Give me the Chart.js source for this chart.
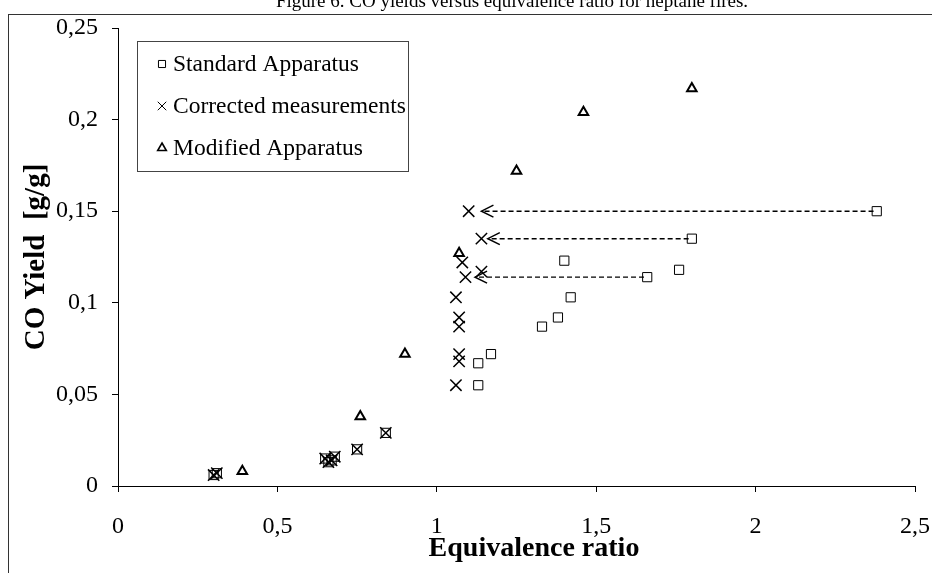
<!DOCTYPE html>
<html>
<head>
<meta charset="utf-8">
<script src="https://cdn.jsdelivr.net/npm/chart.js@4.4.1/dist/chart.umd.min.js"></script>
<style>
  html, body { margin: 0; padding: 0; background: #fff; }
  #wrap { width: 932px; height: 573px; position: relative; }
</style>
</head>
<body>
<div id="wrap"><canvas id="c" width="932" height="573"></canvas></div>
<script>
// CO yield vs equivalence ratio (heptane fires)

const TITLE = 'Figure 6. CO yields versus equivalence ratio for heptane fires.';
const X_TITLE = 'Equivalence ratio';
const Y_TITLE = 'CO Yield  [g/g]';

// Standard Apparatus (open squares)
const standardX = [2.38, 1.80, 1.40, 1.76, 1.66, 1.42, 1.38, 1.33, 1.17, 1.13, 1.13, 0.84, 0.75, 0.68, 0.67, 0.66, 0.65, 0.31, 0.30];
const standardY = [0.150, 0.135, 0.123, 0.118, 0.114, 0.103, 0.092, 0.087, 0.072, 0.067, 0.055, 0.029, 0.020, 0.016, 0.014, 0.013, 0.015, 0.007, 0.006];

// Corrected measurements (x)
const correctedX = [1.10, 1.14, 1.08, 1.14, 1.09, 1.06, 1.07, 1.07, 1.07, 1.07, 1.06, 0.84, 0.75, 0.68, 0.67, 0.66, 0.65, 0.31, 0.30];
const correctedY = [0.150, 0.135, 0.122, 0.117, 0.114, 0.103, 0.092, 0.087, 0.072, 0.068, 0.055, 0.029, 0.020, 0.016, 0.014, 0.013, 0.015, 0.007, 0.006];

// Modified Apparatus (open triangles)
const modifiedX = [1.80, 1.46, 1.25, 1.07, 0.90, 0.76, 0.39];
const modifiedY = [0.217, 0.204, 0.172, 0.127, 0.072, 0.038, 0.008];

// dashed correction arrows (from square to corrected value)
const arrowY     = [0.150, 0.135, 0.114];
const arrowFromX = [2.37, 1.79, 1.65];
const arrowToX   = [1.14, 1.16, 1.12];

// axis ticks
const xTicks = [0, 0.5, 1, 1.5, 2, 2.5];
const yTicks = [0, 0.05, 0.1, 0.15, 0.2, 0.25];

const SERIF = '"Liberation Serif", "Times New Roman", serif';
const pts = (xs, ys) => xs.map((x, i) => ({ x, y: ys[i] }));
const comma = (v) => String(Number(v.toFixed(2))).replace('.', ',');

// ---------- 枠・図タイトル(上端で切れている) ----------
const framePlugin = {
  id: 'frame',
  beforeDraw(chart) {
    const ctx = chart.ctx;
    ctx.save();
    ctx.fillStyle = '#fff';
    ctx.fillRect(0, 0, chart.width, chart.height);
    ctx.strokeStyle = '#333';
    ctx.lineWidth = 1;
    ctx.strokeRect(8.5, 14.5, 940, 600);
    ctx.fillStyle = '#000';
    ctx.font = '19px ' + SERIF;
    ctx.textAlign = 'center';
    ctx.textBaseline = 'alphabetic';
    ctx.fillText(TITLE, 512, 7);
    ctx.restore();
  },
  // x軸タイトルは原図では少し右寄り
  afterDraw(chart) {
    const ctx = chart.ctx;
    ctx.save();
    ctx.fillStyle = '#000';
    ctx.font = 'bold 28px ' + SERIF;
    ctx.textAlign = 'center';
    ctx.textBaseline = 'alphabetic';
    ctx.fillText(X_TITLE, 534, 556);
    ctx.restore();
  }
};

// ---------- 矢印の先(開いた山形) ----------
const arrowPlugin = {
  id: 'arrowHeads',
  afterDatasetsDraw(chart) {
    const xs = chart.scales.x, ys = chart.scales.y;
    const ctx = chart.ctx;
    ctx.save();
    ctx.strokeStyle = '#000';
    ctx.lineWidth = 1.5;
    arrowToX.forEach((x, i) => {
      const px = xs.getPixelForValue(x), py = ys.getPixelForValue(arrowY[i]);
      ctx.beginPath();
      ctx.moveTo(px + 12, py - 6); ctx.lineTo(px, py); ctx.lineTo(px + 12, py + 6);
      ctx.stroke();
    });
    ctx.restore();
  }
};

// ---------- 凡例(枠付き) ----------
const legendPlugin = {
  id: 'boxLegend',
  afterDraw(chart) {
    const ctx = chart.ctx;
    ctx.save();
    ctx.strokeStyle = '#444';
    ctx.lineWidth = 1;
    ctx.strokeRect(137.5, 41.5, 271, 130);
    ctx.font = '23.5px ' + SERIF;
    ctx.textBaseline = 'middle';
    const sizes = [5, 6, 5];
    [0, 1, 2].forEach((di, i) => {
      const ds = chart.data.datasets[di];
      const y = 64 + i * 42;
      ctx.fillStyle = 'rgba(0,0,0,0)';
      ctx.strokeStyle = '#000';
      ctx.lineWidth = di === 2 ? 1.6 : 1;
      Chart.helpers.drawPoint(ctx, { pointStyle: ds.pointStyle, radius: sizes[i], borderWidth: ctx.lineWidth }, 162, y);
      ctx.fillStyle = '#000';
      ctx.fillText(ds.label, 173, y + 1);
    });
    ctx.restore();
  }
};

const markerBase = { showLine: false, borderColor: '#000', backgroundColor: 'transparent', pointBackgroundColor: 'transparent' };

const datasets = [
  Object.assign({ label: 'Standard Apparatus', data: pts(standardX, standardY), pointStyle: 'rect', pointRadius: 6.5, borderWidth: 1 }, markerBase),
  Object.assign({ label: 'Corrected measurements', data: pts(correctedX, correctedY), pointStyle: 'crossRot', pointRadius: 8, borderWidth: 1.5 }, markerBase),
  Object.assign({ label: 'Modified Apparatus', data: pts(modifiedX, modifiedY), pointStyle: 'triangle', pointRadius: 5.5, borderWidth: 2 }, markerBase)
];
arrowY.forEach((y, i) => {
  datasets.push({
    label: '_arrow' + i,
    type: 'line',
    data: [{ x: arrowFromX[i], y }, { x: arrowToX[i], y }],
    borderColor: '#000',
    borderWidth: 1.4,
    borderDash: [5, 3],
    pointRadius: 0,
    fill: false
  });
});

new Chart(document.getElementById('c'), {
  type: 'scatter',
  data: { datasets },
  plugins: [framePlugin, arrowPlugin, legendPlugin],
  options: {
    responsive: false,
    animation: false,
    devicePixelRatio: 1,
    layout: { padding: { left: 0, right: 17, top: 28, bottom: 0 } },
    scales: {
      x: {
        type: 'linear', min: 0, max: 2.5,
        afterBuildTicks: (s) => { s.ticks = xTicks.map(v => ({ value: v })); },
        afterFit: (s) => { s.height = 87; s.paddingLeft = 0; s.paddingRight = 0; },
        ticks: { color: '#000', font: { family: SERIF, size: 24 }, padding: 20, callback: (v) => comma(v), maxRotation: 0 },
        grid: { display: true, drawOnChartArea: false, drawTicks: true, tickLength: 6, color: '#000' },
        border: { display: true, color: '#000', width: 1 }
      },
      y: {
        type: 'linear', min: 0, max: 0.25,
        afterBuildTicks: (s) => { s.ticks = yTicks.map(v => ({ value: v })); },
        afterFit: (s) => { s.width = 118; s.paddingTop = 0; s.paddingBottom = 0; },
        ticks: { color: '#000', font: { family: SERIF, size: 24 }, padding: 14, callback: (v) => comma(v) },
        grid: { display: true, drawOnChartArea: false, drawTicks: true, tickLength: 6, color: '#000' },
        border: { display: true, color: '#000', width: 1 },
        title: { display: true, text: Y_TITLE, color: '#000', font: { family: SERIF, size: 29, weight: 'bold' }, padding: { top: 19, bottom: 0 } }
      }
    },
    plugins: {
      legend: { display: false },
      tooltip: { enabled: false },
      title: { display: false }
    }
  }
});
</script>
</body>
</html>
